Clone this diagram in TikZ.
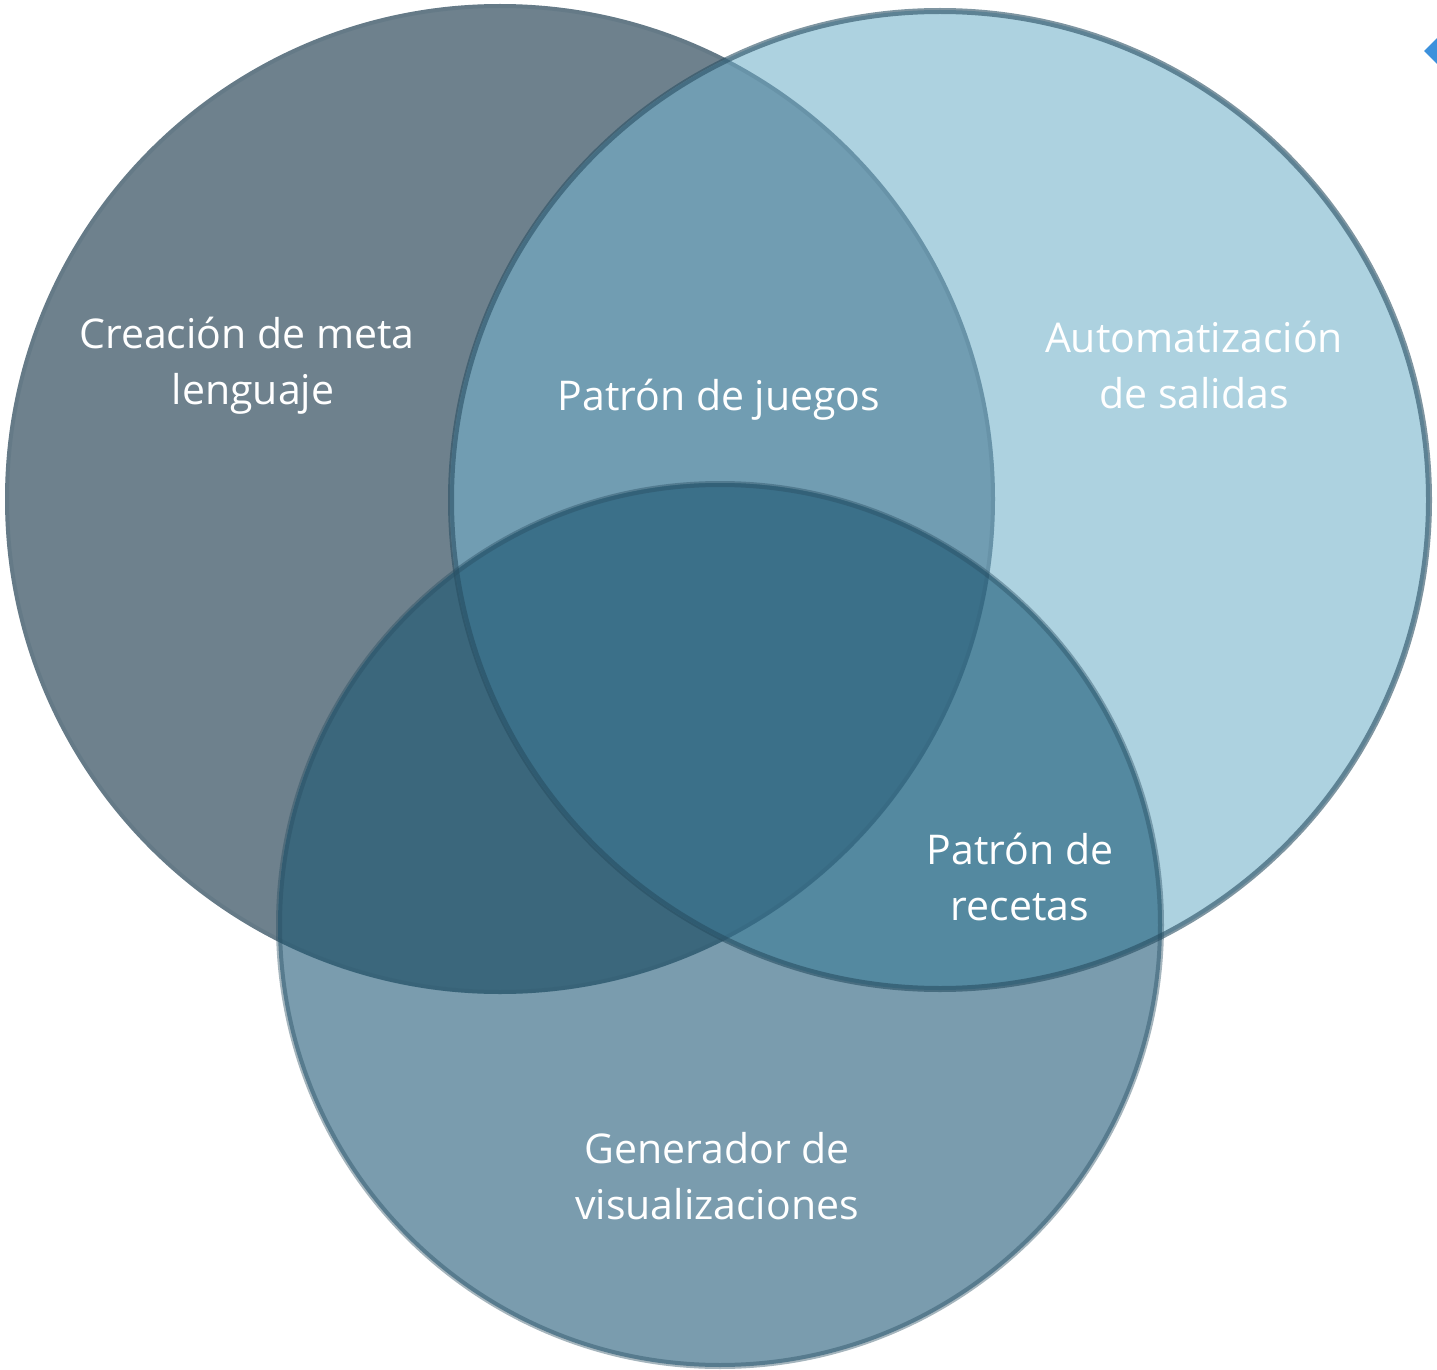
\documentclass[tikz,border=0pt]{standalone}
\usepackage{fontspec}
\setmainfont{Open Sans}
\definecolor{cL}{RGB}{110,129,141}
\definecolor{cR}{RGB}{173,210,224}
\definecolor{cB}{RGB}{122,156,174}
\definecolor{cLR}{RGB}{113,157,178}
\definecolor{cRB}{RGB}{84,137,160}
\definecolor{cLB}{RGB}{59,103,124}
\definecolor{cLRB}{RGB}{59,112,137}
\definecolor{cEdge}{RGB}{40,78,98}
\definecolor{cDiam}{RGB}{60,145,220}
\tikzset{
  lbl/.style={text=white, align=center, font=\fontsize{20.5pt}{28pt}\selectfont, inner sep=0pt},
  edge/.style={draw=cEdge, line width=3pt}
}
\begin{document}
\begin{tikzpicture}[x=0.5pt,y=-0.5pt]
\useasboundingbox (0,0) rectangle (1437,1370);
% single circles
\fill[cL] (500,499) circle[radius=495];
\fill[cR] (940,500) circle[radius=490];
\fill[cB] (720,925) circle[radius=442];
% pairwise overlaps
\begin{scope}
  \clip (500,499) circle[radius=495];
  \fill[cLR] (940,500) circle[radius=490];
  \fill[cLB] (720,925) circle[radius=442];
\end{scope}
\begin{scope}
  \clip (940,500) circle[radius=490];
  \fill[cRB] (720,925) circle[radius=442];
  \clip (500,499) circle[radius=495];
  \fill[cLRB] (720,925) circle[radius=442];
\end{scope}
% outlines
\draw[edge, draw opacity=0.12, line width=2pt] (500,499) circle[radius=493];
\draw[edge, draw opacity=0.6] (940,500) circle[radius=489];
\draw[edge, draw opacity=0.42] (720,925) circle[radius=441];
% small diamond at top-right edge
\begin{scope}
  \clip (0,0) rectangle (1437,1370);
  \fill[cDiam] (1424,51) -- (1440,35) -- (1456,51) -- (1440,67) -- cycle;
\end{scope}
% labels
\node[lbl] (meta) at (247,366) {Creación de meta\\\hspace*{6pt}lenguaje};
\node[lbl] (juegos) at (719,400) {Patrón de juegos};
\node[lbl] (auto) at (1194,365) {Automatización\\de salidas};
\node[lbl] (recetas) at (1020,877) {Patrón de\\recetas};
\node[lbl] (gen) at (717,1176) {Generador de\\visualizaciones};
\end{tikzpicture}
\end{document}
